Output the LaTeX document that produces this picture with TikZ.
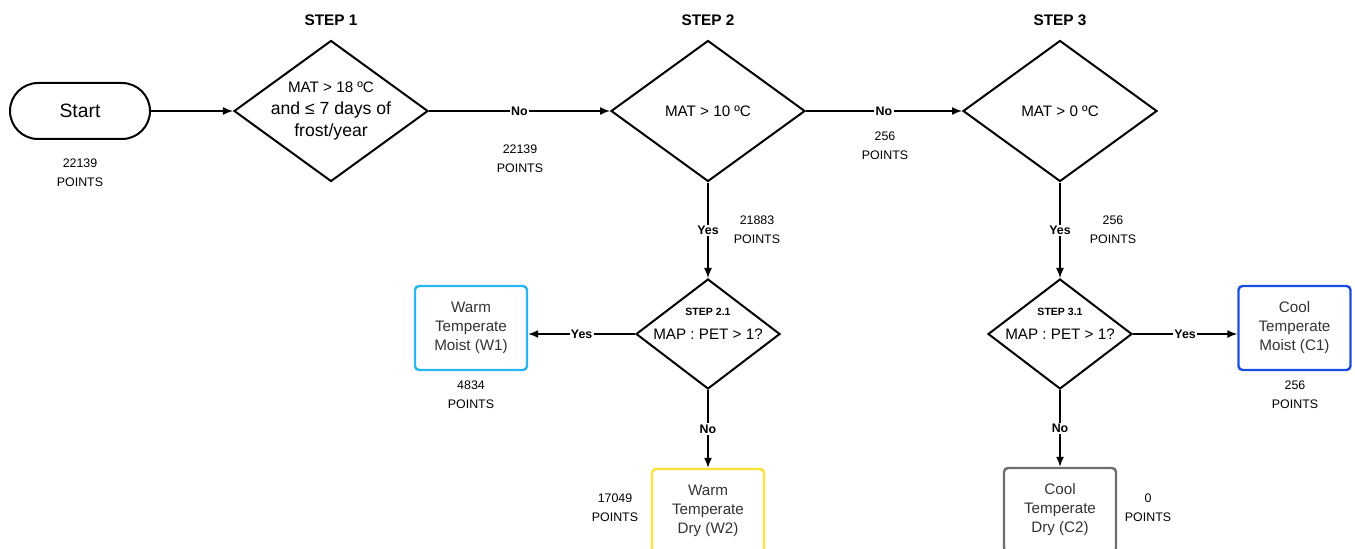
\documentclass[tikz,border=0pt]{standalone}
\usepackage{fontspec}
\setmainfont{Liberation Sans}
\usetikzlibrary{shapes.geometric,arrows.meta}
\definecolor{wblue}{HTML}{29B6F0}
\definecolor{cblue}{HTML}{1A4FE0}
\definecolor{wyellow}{HTML}{FFE033}
\definecolor{cgrey}{HTML}{6E6E6E}
\definecolor{boxtext}{HTML}{333333}

\begin{document}
\begin{tikzpicture}[x=0.75pt,y=-0.75pt,
  terminal/.style={draw,line width=1.5pt,rounded corners=21pt,minimum width=105pt,minimum height=42pt,font=\fontsize{14.5}{17}\selectfont},
  decision/.style={diamond,draw,line width=1.5pt,inner sep=0pt,shape aspect=1.37,minimum width=145.5pt,minimum height=105.75pt,align=center,font=\fontsize{11.4}{16.5}\selectfont},
  subdecision/.style={decision,shape aspect=1.31,minimum width=108pt,minimum height=82.5pt},
  zone/.style={draw=#1,line width=1.8pt,rounded corners=3pt,minimum width=84pt,minimum height=63pt,align=center,text=boxtext,font=\fontsize{11.4}{14.25}\selectfont},
  flow/.style={-{Latex[length=7.5pt,width=6pt]},line width=1.1pt},
  answer/.style={fill=white,inner sep=1pt,font=\fontsize{9.3}{11}\selectfont\bfseries},
  points/.style={align=center,font=\fontsize{9.3}{14.25}\selectfont},
  steptitle/.style={font=\fontsize{11.5}{14}\selectfont\bfseries},
  substep/.style={font=\fontsize{7.9}{9}\selectfont\bfseries}]
\clip (0,0) rectangle (1355,549);
\useasboundingbox (0,0) rectangle (1355,549);

% step titles
\node[steptitle] (t1) at (331,20) {STEP 1};
\node[steptitle] (t2) at (708,20) {STEP 2};
\node[steptitle] (t3) at (1060,20) {STEP 3};

% main line
\node[terminal] (start) at (80,111) {Start};
\node[decision,inner sep=-3pt] (s1) at (331,111) {MAT > 18 ºC\\\fontsize{13.2}{16.5}\selectfont and ≤ 7 days of\\\fontsize{13.2}{16.5}\selectfont frost/year};
\node[decision] (s2) at (708,111) {MAT > 10 ºC};
\node[decision] (s3) at (1060,111) {MAT > 0 ºC};

% moisture tests
\node[subdecision] (s21) at (708,334) {MAP : PET > 1?};
\node[subdecision] (s31) at (1060,334) {MAP : PET > 1?};
\node[substep] (s21t) at (708,312) {STEP 2.1};
\node[substep] (s31t) at (1060,312) {STEP 3.1};

% zones
\node[zone=wblue] (w1) at (471,328) {Warm\\Temperate\\Moist (W1)};
\node[zone=wyellow] (w2) at (708,511) {Warm\\Temperate\\Dry (W2)};
\node[zone=cblue] (c1) at (1294.5,328) {Cool\\Temperate\\Moist (C1)};
\node[zone=cgrey] (c2) at (1060,510) {Cool\\Temperate\\Dry (C2)};

% point counts
\node[points] (p0) at (80,173) {22139\\POINTS};
\node[points] (p1) at (520,159) {22139\\POINTS};
\node[points] (p2) at (885,146) {256\\POINTS};
\node[points] (p3) at (757,230) {21883\\POINTS};
\node[points] (p4) at (1113,230) {256\\POINTS};
\node[points] (p5) at (471,395) {4834\\POINTS};
\node[points] (p6) at (615,508) {17049\\POINTS};
\node[points] (p7) at (1295,395) {256\\POINTS};
\node[points] (p8) at (1148,508) {0\\POINTS};

\draw[flow] (start) -- (s1);
\draw[flow] (s1) -- node[answer]{No} (s2);
\draw[flow] (s2) -- node[answer]{No} (s3);
\draw[flow] (s2) -- node[answer]{Yes} (s21);
\draw[flow] (s3) -- node[answer]{Yes} (s31);
\draw[flow] (s21.west) -- node[answer]{Yes} (s21.west -| w1.east);
\draw[flow] (s31.east) -- node[answer]{Yes} (s31.east -| c1.west);
\draw[flow] (s21) -- node[answer]{No} (w2);
\draw[flow] (s31) -- node[answer]{No} (c2);
\end{tikzpicture}
\end{document}
